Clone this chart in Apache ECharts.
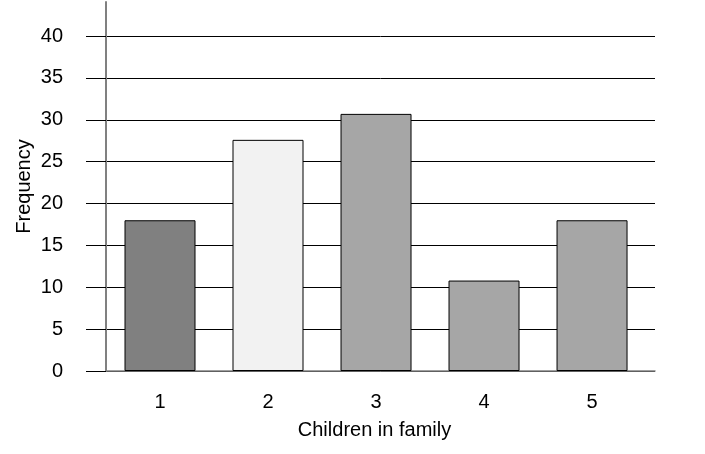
<!DOCTYPE html>
<html>
<head>
<meta charset="utf-8">
<script src="https://cdn.jsdelivr.net/npm/echarts@6/dist/echarts.min.js"></script>
<style>html,body{margin:0;padding:0;background:#fff}#c{width:705px;height:454px}</style>
</head>
<body>
<div id="c"></div>
<script>
const categories = [1, 2, 3, 4, 5];
const frequency = [18, 27.6, 30.7, 10.8, 18];
const barColors = ['#808080', '#f2f2f2', '#a6a6a6', '#a6a6a6', '#a6a6a6'];
const yTicks = [0, 5, 10, 15, 20, 25, 30, 35, 40];

const font = 'Liberation Sans, Arial, sans-serif';
const chart = echarts.init(document.getElementById('c'), null, {renderer: 'canvas'});
chart.setOption({
  animation: false,
  grid: [
    {left: 106, right: 50, top: 2, bottom: 83},
    {left: 106, right: 50, top: 36, bottom: 83}
  ],
  xAxis: [
    {gridIndex: 0, type: 'value', min: 0.5, max: 5.583, show: false},
    {gridIndex: 1, type: 'value', min: 0.5, max: 5.583,
     axisLine: {show: true, onZero: false, lineStyle: {color: '#808080', width: 1.5}},
     axisTick: {show: false}, splitLine: {show: false},
     axisLabel: {customValues: categories, margin: 21, color: '#000', fontSize: 20, fontFamily: font},
     name: 'Children in family', nameLocation: 'middle', nameGap: 49,
     nameTextStyle: {color: '#000', fontSize: 20, fontFamily: font, padding: [0, 12, 0, 0]}}
  ],
  yAxis: [
    {gridIndex: 0, type: 'value', min: 0, max: 40 * 369 / 335,
     axisLine: {show: true, lineStyle: {color: '#808080', width: 2}},
     axisTick: {show: false}, axisLabel: {show: false}, splitLine: {show: false},
     name: 'Frequency', nameLocation: 'middle', nameGap: 72,
     nameTextStyle: {color: '#000', fontSize: 20, fontFamily: font}},
    {gridIndex: 1, type: 'value', min: 0, max: 40, interval: 5,
     axisLine: {show: false},
     axisTick: {show: true, inside: false, length: 20, lineStyle: {color: '#000', width: 1}},
     splitLine: {show: true, lineStyle: {color: '#000', width: 1}},
     axisLabel: {margin: 43, color: '#000', fontSize: 20, fontFamily: font,
       formatter: v => yTicks.includes(v) ? String(v) : ''}}
  ],
  series: [{
    type: 'bar', xAxisIndex: 1, yAxisIndex: 1, barWidth: 71,
    data: categories.map((c, i) => ({value: [c, frequency[i]], itemStyle: {color: barColors[i]}})),
    itemStyle: {borderColor: '#000', borderWidth: 1}
  }]
});
</script>
</body>
</html>
